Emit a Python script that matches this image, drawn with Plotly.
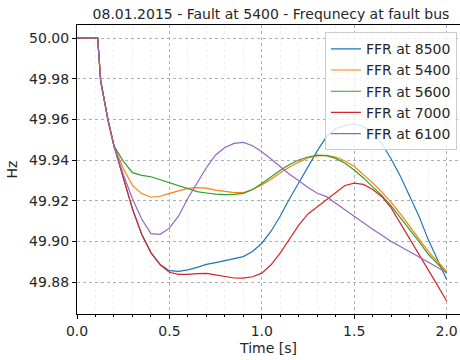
import plotly.graph_objects as go

t = [0.0, 0.112, 0.128, 0.15, 0.167, 0.2, 0.25, 0.3, 0.35, 0.4, 0.45, 0.5, 0.55, 0.6, 0.65, 0.7,
     0.75, 0.8, 0.85, 0.9, 0.95, 1.0, 1.05, 1.1, 1.15, 1.2, 1.25, 1.3, 1.35, 1.4, 1.45,
     1.5, 1.55, 1.6, 1.65, 1.7, 1.75, 1.8, 1.85, 1.9, 1.95, 2.0]

common = [50.0, 50.0, 49.979, 49.968, 49.960, 49.947]

ffr_8500 = common + [49.931, 49.916, 49.9035, 49.8945, 49.8887, 49.8856, 49.8853, 49.886, 49.8872, 49.8887,
                     49.8896, 49.8905, 49.8913, 49.8925, 49.895, 49.8991, 49.905, 49.9125, 49.921, 49.929,
                     49.937, 49.9445, 49.9515, 49.9555, 49.957, 49.9578, 49.9565, 49.9535, 49.948, 49.9405,
                     49.932, 49.9225, 49.9125, 49.901, 49.891, 49.8813]
ffr_5400 = common + [49.936, 49.9275, 49.9235, 49.9217, 49.9222, 49.9236, 49.925, 49.9261, 49.9264, 49.9262,
                     49.9252, 49.9245, 49.924, 49.924, 49.9255, 49.9278, 49.9305, 49.9337, 49.9366, 49.939,
                     49.941, 49.942, 49.9423, 49.9415, 49.9395, 49.9368, 49.933, 49.9288, 49.9242, 49.9192,
                     49.9135, 49.9075, 49.901, 49.8952, 49.8902, 49.8855]
ffr_5600 = common + [49.9395, 49.9338, 49.9325, 49.9318, 49.9303, 49.9288, 49.9272, 49.9257, 49.9245, 49.9238,
                     49.9232, 49.923, 49.9231, 49.9236, 49.9255, 49.9285, 49.9318, 49.935, 49.9378, 49.94,
                     49.9415, 49.9424, 49.9422, 49.9408, 49.9384, 49.9351, 49.9312, 49.9271, 49.9225, 49.9175,
                     49.9118, 49.906, 49.9, 49.8938, 49.889, 49.8844]
ffr_7000 = common + [49.931, 49.916, 49.9035, 49.8945, 49.8885, 49.8848, 49.8838, 49.8838, 49.8842, 49.8843,
                     49.8835, 49.8826, 49.882, 49.8819, 49.8826, 49.8844, 49.8885, 49.8944, 49.901, 49.908,
                     49.9135, 49.917, 49.9205, 49.924, 49.9275, 49.9286, 49.928, 49.9255, 49.922, 49.9165,
                     49.909, 49.901, 49.8935, 49.886, 49.8785, 49.8707]
ffr_6100 = common + [49.933, 49.921, 49.911, 49.9038, 49.9035, 49.9065, 49.9125, 49.9212, 49.929, 49.9362,
                     49.9425, 49.9462, 49.9482, 49.9487, 49.947, 49.9441, 49.9405, 49.9367, 49.933, 49.9298,
                     49.9265, 49.9237, 49.922, 49.9188, 49.9155, 49.9122, 49.909, 49.906, 49.903, 49.9,
                     49.8975, 49.895, 49.8925, 49.8898, 49.8873, 49.8847]

names = ["FFR at 8500", "FFR at 5400", "FFR at 5600", "FFR at 7000", "FFR at 6100"]
series = [ffr_8500, ffr_5400, ffr_5600, ffr_7000, ffr_6100]
colors = ["#1f77b4", "#ff7f0e", "#2ca02c", "#d62728", "#9467bd"]

y_ticks = [49.88, 49.90, 49.92, 49.94, 49.96, 49.98, 50.00]
x_ticks = [0.0, 0.5, 1.0, 1.5, 2.0]

FONT = "DejaVu Sans"
TXT = "#262626"

fig = go.Figure()
for n, s, c in zip(names, series, colors):
    fig.add_trace(go.Scatter(x=t, y=s, mode="lines", name=n, legendgroup=n,
                             line=dict(color=c, width=1.2)))

fig.update_layout(
    width=460, height=360,
    margin=dict(l=77, r=0, t=25, b=46),
    plot_bgcolor="white", paper_bgcolor="white",
    font=dict(family=FONT, size=14, color=TXT),
    title=dict(text="08.01.2015 - Fault at 5400 - Frequnecy at fault bus",
               xref="container", x=271/460, xanchor="center",
               yref="container", y=1-14/360, yanchor="middle",
               font=dict(size=14, color=TXT)),
    legend=dict(x=0.992, y=0.975, xanchor="right", yanchor="top",
                bgcolor="rgba(255,255,255,0.8)", bordercolor="#cccccc", borderwidth=1,
                font=dict(size=14, color=TXT), tracegroupgap=0),
    showlegend=True,
)

fig.update_xaxes(
    range=[0, 383/184.8], tickvals=x_ticks, ticktext=[f"{v:.1f}" for v in x_ticks],
    showline=True, linecolor="black", linewidth=1, mirror=True,
    ticks="outside", ticklen=4, tickcolor="black",
    showgrid=True, gridcolor="#b0b0b0", griddash="dot", gridwidth=1,
    minor=dict(dtick=0.1, tick0=0, ticks="outside", ticklen=2, tickcolor="black",
               showgrid=True, gridcolor="#eeeeee", gridwidth=1),
    zeroline=False,
    title=dict(text="Time [s]", standoff=5, font=dict(size=14)),
)
fig.update_yaxes(
    range=[49.8643, 50.0064], tickvals=y_ticks, ticktext=[f"{v:.2f}" for v in y_ticks],
    showline=True, linecolor="black", linewidth=1, mirror=False,
    ticks="outside", ticklen=4, tickcolor="black",
    showgrid=True, gridcolor="#b0b0b0", griddash="dot", gridwidth=1,
    zeroline=False,
    title=dict(text="Hz", standoff=8, font=dict(size=14)),
)

fig.write_html("out.html")
